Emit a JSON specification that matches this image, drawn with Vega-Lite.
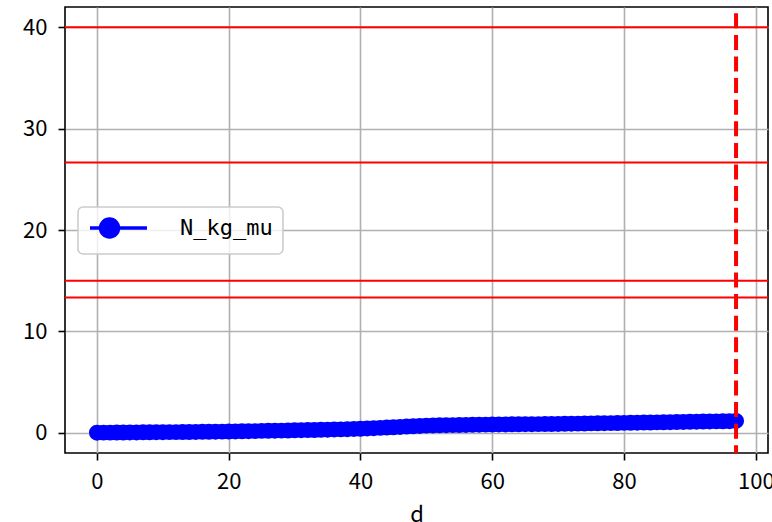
{
  "$schema": "https://vega.github.io/schema/vega-lite/v6.json",
  "width": 703,
  "height": 446,
  "autosize": {"type": "none"},
  "padding": {"left": 65, "top": 7, "right": 4, "bottom": 69},
  "background": "white",
  "config": {
    "font": "Noto Sans CJK JP",
    "view": {"stroke": "black", "strokeWidth": 1.6},
    "axis": {
      "grid": true,
      "gridColor": "#b0b0b0",
      "gridWidth": 1.6,
      "domain": false,
      "tickColor": "black",
      "tickWidth": 1.6,
      "tickSize": 7,
      "labelFont": "Noto Sans CJK JP",
      "labelFontSize": 22,
      "labelColor": "black",
      "labelPadding": 11,
      "titleFont": "Noto Sans CJK JP",
      "titleFontSize": 22,
      "titleFontWeight": "normal",
      "titleColor": "black",
      "titlePadding": 12
    }
  },
  "datasets": {
    "series": [
      {"d": 0, "N_kg_mu": 0.0}, {"d": 1, "N_kg_mu": 0.01}, {"d": 2, "N_kg_mu": 0.01}, {"d": 3, "N_kg_mu": 0.02},
      {"d": 4, "N_kg_mu": 0.02}, {"d": 5, "N_kg_mu": 0.03}, {"d": 6, "N_kg_mu": 0.03}, {"d": 7, "N_kg_mu": 0.04},
      {"d": 8, "N_kg_mu": 0.04}, {"d": 9, "N_kg_mu": 0.05}, {"d": 10, "N_kg_mu": 0.05}, {"d": 11, "N_kg_mu": 0.06},
      {"d": 12, "N_kg_mu": 0.06}, {"d": 13, "N_kg_mu": 0.07}, {"d": 14, "N_kg_mu": 0.07}, {"d": 15, "N_kg_mu": 0.08},
      {"d": 16, "N_kg_mu": 0.09}, {"d": 17, "N_kg_mu": 0.09}, {"d": 18, "N_kg_mu": 0.1}, {"d": 19, "N_kg_mu": 0.11},
      {"d": 20, "N_kg_mu": 0.12}, {"d": 21, "N_kg_mu": 0.13}, {"d": 22, "N_kg_mu": 0.14}, {"d": 23, "N_kg_mu": 0.15},
      {"d": 24, "N_kg_mu": 0.16}, {"d": 25, "N_kg_mu": 0.18}, {"d": 26, "N_kg_mu": 0.19}, {"d": 27, "N_kg_mu": 0.2},
      {"d": 28, "N_kg_mu": 0.21}, {"d": 29, "N_kg_mu": 0.22}, {"d": 30, "N_kg_mu": 0.24}, {"d": 31, "N_kg_mu": 0.25},
      {"d": 32, "N_kg_mu": 0.26}, {"d": 33, "N_kg_mu": 0.27}, {"d": 34, "N_kg_mu": 0.29}, {"d": 35, "N_kg_mu": 0.3},
      {"d": 36, "N_kg_mu": 0.32}, {"d": 37, "N_kg_mu": 0.33}, {"d": 38, "N_kg_mu": 0.35}, {"d": 39, "N_kg_mu": 0.37},
      {"d": 40, "N_kg_mu": 0.39}, {"d": 41, "N_kg_mu": 0.42}, {"d": 42, "N_kg_mu": 0.45}, {"d": 43, "N_kg_mu": 0.48},
      {"d": 44, "N_kg_mu": 0.51}, {"d": 45, "N_kg_mu": 0.54}, {"d": 46, "N_kg_mu": 0.57}, {"d": 47, "N_kg_mu": 0.61},
      {"d": 48, "N_kg_mu": 0.64}, {"d": 49, "N_kg_mu": 0.67}, {"d": 50, "N_kg_mu": 0.7}, {"d": 51, "N_kg_mu": 0.72},
      {"d": 52, "N_kg_mu": 0.73}, {"d": 53, "N_kg_mu": 0.74}, {"d": 54, "N_kg_mu": 0.75}, {"d": 55, "N_kg_mu": 0.76},
      {"d": 56, "N_kg_mu": 0.77}, {"d": 57, "N_kg_mu": 0.78}, {"d": 58, "N_kg_mu": 0.79}, {"d": 59, "N_kg_mu": 0.8},
      {"d": 60, "N_kg_mu": 0.81}, {"d": 61, "N_kg_mu": 0.82}, {"d": 62, "N_kg_mu": 0.82}, {"d": 63, "N_kg_mu": 0.83},
      {"d": 64, "N_kg_mu": 0.83}, {"d": 65, "N_kg_mu": 0.84}, {"d": 66, "N_kg_mu": 0.84}, {"d": 67, "N_kg_mu": 0.85},
      {"d": 68, "N_kg_mu": 0.86}, {"d": 69, "N_kg_mu": 0.86}, {"d": 70, "N_kg_mu": 0.87}, {"d": 71, "N_kg_mu": 0.88},
      {"d": 72, "N_kg_mu": 0.89}, {"d": 73, "N_kg_mu": 0.9}, {"d": 74, "N_kg_mu": 0.91}, {"d": 75, "N_kg_mu": 0.92},
      {"d": 76, "N_kg_mu": 0.93}, {"d": 77, "N_kg_mu": 0.94}, {"d": 78, "N_kg_mu": 0.95}, {"d": 79, "N_kg_mu": 0.96},
      {"d": 80, "N_kg_mu": 0.97}, {"d": 81, "N_kg_mu": 0.98}, {"d": 82, "N_kg_mu": 0.99}, {"d": 83, "N_kg_mu": 1.0},
      {"d": 84, "N_kg_mu": 1.01}, {"d": 85, "N_kg_mu": 1.02}, {"d": 86, "N_kg_mu": 1.03}, {"d": 87, "N_kg_mu": 1.04},
      {"d": 88, "N_kg_mu": 1.05}, {"d": 89, "N_kg_mu": 1.06}, {"d": 90, "N_kg_mu": 1.08}, {"d": 91, "N_kg_mu": 1.09},
      {"d": 92, "N_kg_mu": 1.1}, {"d": 93, "N_kg_mu": 1.11}, {"d": 94, "N_kg_mu": 1.12}, {"d": 95, "N_kg_mu": 1.13},
      {"d": 96, "N_kg_mu": 1.14}, {"d": 97, "N_kg_mu": 1.16}
    ],
    "hlines": [{"N_kg_mu": 40}, {"N_kg_mu": 26.67}, {"N_kg_mu": 15}, {"N_kg_mu": 13.33}],
    "vline": [{"d": 97}]
  },
  "layer": [
    {
      "data": {"name": "series"},
      "mark": {"type": "line", "strokeWidth": 3.5, "point": {"filled": true, "size": 254, "opacity": 1}},
      "encoding": {
        "x": {"field": "d", "type": "quantitative", "title": "d",
              "scale": {"domain": [-4.85, 101.85], "nice": false, "zero": false},
              "axis": {"values": [0, 20, 40, 60, 80, 100]}},
        "y": {"field": "N_kg_mu", "type": "quantitative", "title": null,
              "scale": {"domain": [-2, 42], "nice": false, "zero": false},
              "axis": {"values": [0, 10, 20, 30, 40]}},
        "color": {
          "datum": "N_kg_mu",
          "scale": {"range": ["blue"]},
          "legend": {
            "title": null,
            "orient": "none",
            "legendX": 13,
            "legendY": 200,
            "symbolType": "M-1,0L5.33,0M0.17,0A1,1,0,1,1,2.17,0A1,1,0,1,1,0.17,0Z",
            "symbolSize": 324,
            "symbolStrokeWidth": 3.5,
            "symbolFillColor": "blue",
            "symbolStrokeColor": "blue",
            "fillColor": "rgba(255,255,255,0.8)",
            "strokeColor": "#cccccc",
            "cornerRadius": 5,
            "padding": 10,
            "labelFont": "DejaVu Sans Mono",
            "labelFontSize": 22,
            "labelColor": "black",
            "labelOffset": 70,
            "encode": {
              "legend": {"update": {"strokeWidth": {"value": 1.6}}},
              "symbols": {"update": {"fill": {"value": "blue"}, "stroke": {"value": "blue"}, "opacity": {"value": 1}}}
            }
          }
        }
      }
    },
    {
      "data": {"name": "hlines"},
      "mark": {"type": "rule", "color": "red", "strokeWidth": 2},
      "encoding": {"y": {"field": "N_kg_mu", "type": "quantitative", "title": null}}
    },
    {
      "data": {"name": "vline"},
      "mark": {"type": "rule", "color": "red", "strokeWidth": 4, "strokeDash": [15, 6.6], "strokeDashOffset": 15.3},
      "encoding": {"x": {"field": "d", "type": "quantitative", "title": "d"}}
    }
  ]
}
